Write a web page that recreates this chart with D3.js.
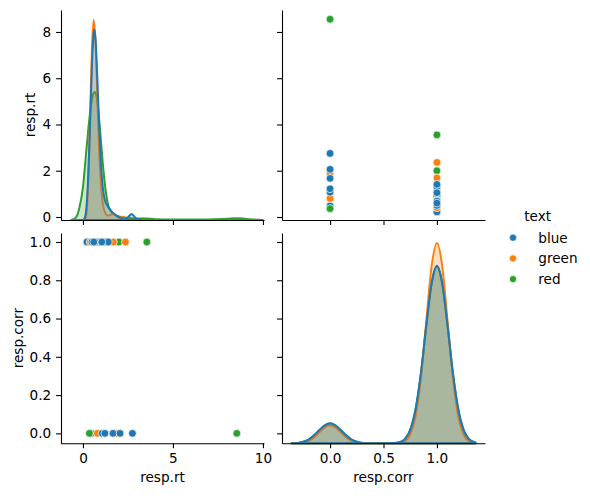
<!DOCTYPE html>
<html>
<head>
<meta charset="utf-8">
<script src="https://cdn.jsdelivr.net/npm/d3@7"></script>
<style>
  body { margin: 0; background: #fff; }
  text { font-family: "DejaVu Sans", sans-serif; }
</style>
</head>
<body>
<script>
// hue levels and their colours
const hues = ["blue", "green", "red"];
const colors = ["#1f77b4", "#ff7f0e", "#2ca02c"];

// response times of correct trials (resp.corr = 1), per hue
const rtCorrectBlue = [0.62, 0.55, 0.71, 0.48, 0.66, 0.59, 0.75, 0.52, 0.68, 0.44, 0.63, 0.81, 0.57, 0.7, 0.36,
  0.64, 0.9, 0.53, 0.61, 0.3, 0.74, 1.3, 1.41, 0.58, 0.67, 0.22, 0.69, 0.5, 1.05, 0.6];
const rtCorrectGreen = [0.6, 0.57, 0.65, 0.52, 0.62, 0.68, 0.55, 0.72, 0.58, 0.64, 0.47, 0.8, 0.61, 0.56, 0.9,
  1.0, 1.1, 1.24, 1.69, 2.36, 0.66, 0.59, 0.63, 0.7, 0.54, 0.4];
const rtCorrectRed = [0.6, 0.72, 0.5, 0.66, 0.85, 0.45, 0.78, 0.58, 0.95, 0.64, 0.38, 0.7, 1.1, 0.28, 0.56,
  2.0, 3.55, 0.48, 0.62, 0.9];

// response times of error trials (resp.corr = 0), per hue
const rtErrorBlue = [0.48, 1.07, 1.22, 1.67, 2.06, 2.75];
const rtErrorGreen = [0.8, 1.87];
const rtErrorRed = [0.36, 8.55];

const kdeRtBlue = [[0.0, 0], [0.1, 0.01], [0.2, 0.07], [0.3, 0.235], [0.4, 0.49], [0.5, 0.775], [0.6, 0.94],
  [0.63, 0.952], [0.7, 0.905], [0.8, 0.705], [0.9, 0.47], [1.0, 0.28], [1.1, 0.165], [1.2, 0.105], [1.4, 0.065],
  [1.6, 0.042], [1.8, 0.025], [2.0, 0.015], [2.2, 0.008], [2.4, 0.008], [2.55, 0.018], [2.7, 0.03],
  [2.85, 0.018], [3.0, 0.005], [3.26, 0]];
const kdeRtGreen = [[0.1, 0], [0.2, 0.035], [0.3, 0.21], [0.4, 0.53], [0.5, 0.86], [0.59, 1.0], [0.7, 0.89],
  [0.8, 0.62], [0.9, 0.35], [1.0, 0.18], [1.1, 0.085], [1.2, 0.045], [1.3, 0.028], [1.45, 0.022], [1.6, 0.028],
  [1.75, 0.03], [1.9, 0.018], [2.05, 0.01], [2.2, 0.016], [2.35, 0.012], [2.5, 0.003], [2.6, 0]];
const kdeRtRed = [[-0.65, 0], [-0.4, 0.012], [-0.2, 0.06], [0.0, 0.165], [0.2, 0.36], [0.4, 0.54], [0.55, 0.625],
  [0.67, 0.64], [0.8, 0.59], [0.95, 0.45], [1.1, 0.285], [1.25, 0.155], [1.4, 0.075], [1.6, 0.038], [1.8, 0.025],
  [2.0, 0.018], [2.5, 0.01], [3.0, 0.007], [3.5, 0.008], [4.0, 0.004], [5.0, 0.002], [6.0, 0.002], [7.0, 0.003],
  [8.0, 0.006], [8.55, 0.009], [9.0, 0.006], [9.5, 0.002], [10.0, 0]];

// kde of resp.corr (orange peak = 1)
const kdeCorrX = [-0.36, -0.3, -0.25, -0.2, -0.15, -0.1, -0.05, 0, 0.05, 0.1, 0.15, 0.2, 0.25, 0.3, 0.35, 0.4, 0.5,
  0.6, 0.65, 0.7, 0.75, 0.8, 0.85, 0.9, 0.95, 1.0, 1.05, 1.1, 1.15, 1.2, 1.25, 1.3, 1.36];
const kdeCorrBlue = [0.0006, 0.002, 0.008, 0.019, 0.040, 0.066, 0.090, 0.1, 0.090, 0.066, 0.040, 0.019, 0.008,
  0.002, 0.0006, 0, 0, 0.001, 0.005, 0.021, 0.067, 0.170, 0.350, 0.587, 0.800, 0.887, 0.800, 0.587, 0.350, 0.170,
  0.067, 0.021, 0.004];
const kdeCorrGreen = [0, 0.001, 0.004, 0.012, 0.029, 0.055, 0.079, 0.09, 0.079, 0.055, 0.029, 0.012, 0.004, 0.001,
  0, 0, 0, 0, 0.002, 0.011, 0.044, 0.135, 0.325, 0.607, 0.883, 1, 0.883, 0.607, 0.325, 0.135, 0.044, 0.011, 0.002];
const kdeCorrRed = [0.0006, 0.002, 0.008, 0.019, 0.040, 0.065, 0.089, 0.099, 0.089, 0.065, 0.040, 0.019, 0.008,
  0.002, 0.0006, 0, 0, 0.001, 0.005, 0.021, 0.066, 0.168, 0.347, 0.583, 0.795, 0.882, 0.795, 0.583, 0.347, 0.168,
  0.066, 0.021, 0.004];

// tick labels
const rtTicksX = [0, 5, 10];
const rtTicksY = [0, 2, 4, 6, 8];
const corrTicksX = [0, 0.5, 1];
const corrTicksY = [0, 0.2, 0.4, 0.6, 0.8, 1.0];

const W = 590, H = 496;
const fs = 13.6, tickLen = 4.9, tickPad = 4.9;

const svg = d3.select("body").append("svg")
    .attr("width", W)
    .attr("height", H);

// panel geometry
const colRt = [61, 264], colCorr = [282, 485];
const rowRt = [220, 10], rowCorr = [443.3, 233];

const xRt = d3.scaleLinear().domain([-1.22, 10.06]).range(colRt);
const xCorr = d3.scaleLinear().domain([-0.45, 1.45]).range(colCorr);
const yRt = d3.scaleLinear().domain([-0.13, 8.95]).range(rowRt);
const yCorr = d3.scaleLinear().domain([-0.052, 1.047]).range(rowCorr);

// trials in interleaved order
const correct = [rtCorrectBlue, rtCorrectGreen, rtCorrectRed];
const errors = [rtErrorBlue, rtErrorGreen, rtErrorRed];
const trials = [];
const nMax = d3.max(correct.concat(errors), a => a.length);
for (let i = 0; i < nMax; i++) {
    hues.forEach((h, k) => {
        if (i < correct[k].length) trials.push({ hue: k, rt: correct[k][i], corr: 1 });
        if (i < errors[k].length) trials.push({ hue: k, rt: errors[k][i], corr: 0 });
    });
}

function styleAxis(g) {
    g.selectAll("path.domain").attr("stroke", "#000").attr("stroke-width", 1.1);
    g.selectAll(".tick line").attr("stroke", "#000").attr("stroke-width", 1.1);
    g.selectAll("text").attr("font-size", fs).attr("fill", "#000")
        .style("font-family", "'DejaVu Sans', sans-serif");
}

function axes(x, y, rowY, colX, xTicks, yTicks, xLab, yLab, xFmt, yFmt) {
    svg.append("g")
        .attr("transform", `translate(0,${rowY[0]})`)
        .call(d3.axisBottom(x).tickValues(xTicks).tickSize(tickLen).tickSizeOuter(0).tickPadding(tickPad)
            .tickFormat(xLab ? xFmt : () => ""))
        .call(styleAxis)
        .attr("font-size", null);
    svg.append("g")
        .attr("transform", `translate(${colX[0]},0)`)
        .call(d3.axisLeft(y).tickValues(yTicks).tickSize(tickLen).tickSizeOuter(0).tickPadding(tickPad)
            .tickFormat(yLab ? yFmt : () => ""))
        .call(styleAxis);
}

const fmtInt = d3.format("d");
const fmt1 = d3.format(".1f");

// diagonal kde panels
function kdePanel(series, x, rowY) {
    const dmax = d3.max(series, s => d3.max(s, p => p[1]));
    const yd = d3.scaleLinear().domain([0, dmax * 1.05]).range(rowY);
    const area = d3.area()
        .x(p => x(p[0]))
        .y0(yd(0))
        .y1(p => yd(p[1]))
        .curve(d3.curveMonotoneX);
    // drawn in reverse hue order, first hue on top
    for (let k = series.length - 1; k >= 0; k--) {
        svg.append("path")
            .datum(series[k])
            .attr("d", area)
            .attr("fill", colors[k])
            .attr("fill-opacity", 0.25)
            .attr("stroke", colors[k])
            .attr("stroke-width", 2)
            .attr("stroke-linejoin", "round");
    }
}

kdePanel([kdeRtBlue, kdeRtGreen, kdeRtRed], xRt, rowRt);
const kdeCorr = [kdeCorrBlue, kdeCorrGreen, kdeCorrRed].map(arr => arr.map((v, i) => [kdeCorrX[i], v]));
kdePanel(kdeCorr, xCorr, rowCorr);

// scatter panels
function scatterPanel(xv, yv) {
    svg.append("g")
        .selectAll("circle")
        .data(trials)
        .enter()
        .append("circle")
        .attr("cx", xv)
        .attr("cy", yv)
        .attr("r", 3.9)
        .attr("fill", d => colors[d.hue])
        .attr("stroke", "#fff")
        .attr("stroke-width", 0.7);
}

scatterPanel(d => xCorr(d.corr), d => yRt(d.rt));
scatterPanel(d => xRt(d.rt), d => yCorr(d.corr));

// axes
axes(xRt, yRt, rowRt, colRt, rtTicksX, rtTicksY, false, true, fmtInt, fmtInt);
axes(xCorr, yRt, rowRt, colCorr, corrTicksX, rtTicksY, false, false, fmt1, fmtInt);
axes(xRt, yCorr, rowCorr, colRt, rtTicksX, corrTicksY, true, true, fmtInt, fmt1);
axes(xCorr, yCorr, rowCorr, colCorr, corrTicksX, corrTicksY, true, false, fmt1, fmt1);

// axis labels
function label(txt, x, y, rot) {
    svg.append("text")
        .attr("transform", `translate(${x},${y}) rotate(${rot})`)
        .attr("text-anchor", "middle")
        .attr("font-size", fs)
        .attr("fill", "#000")
        .text(txt);
}
label("resp.rt", (colRt[0] + colRt[1]) / 2, 482, 0);
label("resp.corr", (colCorr[0] + colCorr[1]) / 2, 482, 0);
label("resp.rt", 35, (rowRt[0] + rowRt[1]) / 2, -90);
label("resp.corr", 22.5, (rowCorr[0] + rowCorr[1]) / 2, -90);

// legend
const legend = svg.append("g");
legend.append("text")
    .attr("x", 537.7)
    .attr("y", 221)
    .attr("text-anchor", "middle")
    .attr("font-size", fs)
    .text("text");
hues.forEach((h, k) => {
    const yy = 237.7 + k * 20.7;
    legend.append("circle")
        .attr("cx", 513)
        .attr("cy", yy)
        .attr("r", 3.6)
        .attr("fill", colors[k])
        .attr("stroke", "#fff")
        .attr("stroke-width", 0.7);
    legend.append("text")
        .attr("x", 538.3)
        .attr("y", yy + 4.8)
        .attr("font-size", fs)
        .text(h);
});
</script>
</body>
</html>
